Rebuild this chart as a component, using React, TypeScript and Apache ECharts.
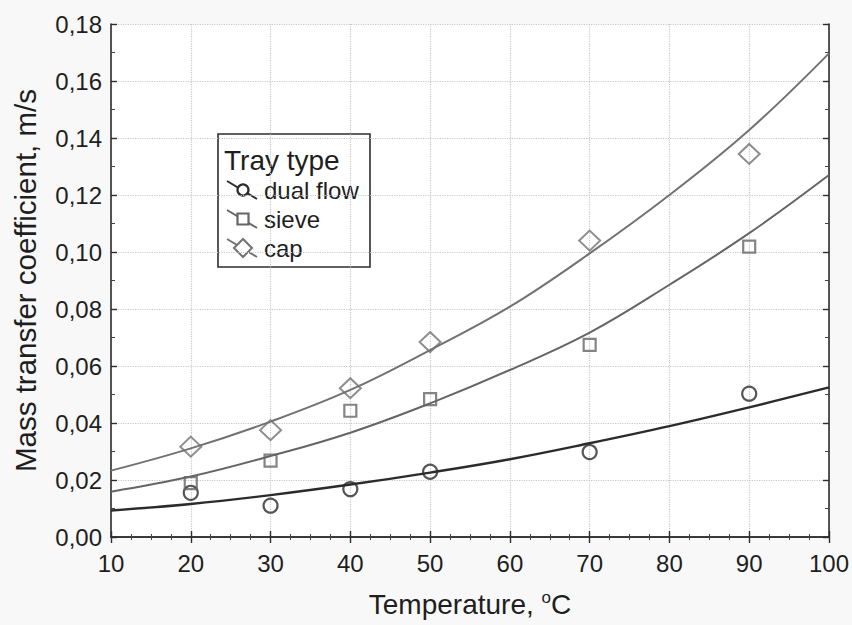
import React, { useEffect, useRef } from "react";
import * as echarts from "echarts";

// ---- data ----
const measuredT = [20, 30, 40, 50, 70, 90];
const dualFlow = [0.0155, 0.011, 0.0168, 0.0229, 0.0298, 0.0503];
const sieve = [0.0189, 0.0268, 0.0443, 0.0484, 0.0674, 0.1019];
const cap = [0.0317, 0.0375, 0.0522, 0.0684, 0.104, 0.1344];

const fitT = [10, 20, 30, 40, 50, 60, 70, 80, 90, 100];
const dualFlowFit = [0.0093, 0.0116, 0.0147, 0.0184, 0.0226, 0.0273, 0.0329, 0.0389, 0.0455, 0.0525];
const sieveFit = [0.0159, 0.0212, 0.0284, 0.0366, 0.0469, 0.0586, 0.0717, 0.0885, 0.1066, 0.127];
const capFit = [0.0233, 0.0311, 0.0405, 0.0516, 0.0656, 0.0808, 0.0995, 0.12, 0.1428, 0.1697];

const seriesNames = ["dual flow", "sieve", "cap"];
const legendTitle = "Tray type";
const xAxisName = "Temperature, ";
const yAxisName = "Mass transfer coefficient, m/s";

const FONT = "'Liberation Sans', Arial, sans-serif";
const TXT = "#1e1e1e";

const pair = (xs: number[], ys: number[]) => xs.map((x, i) => [x, ys[i]]);

export default function App() {
  const ref = useRef<HTMLDivElement>(null);
  useEffect(() => {
    if (!ref.current) return;
    const chart = echarts.init(ref.current, undefined, { renderer: "svg" });

    const colDual = "#2b2b2b";
    const colSieve = "#656565";
    const colCap = "#727272";

    const frameLine = { show: true, lineStyle: { color: "#2e2e2e", width: 1.6 } };
    const grid = { left: 111, top: 24, right: 23, bottom: 88, show: true, backgroundColor: "#ffffff", borderWidth: 0 };

    const lx = 218, ly = 134;
    const legendRows = [190, 219, 248];
    const iconX = 243;

    const option: any = {
      animation: false,
      backgroundColor: "#f8f8f8",
      grid,
      xAxis: [
        {
          type: "value",
          min: 10,
          max: 100,
          interval: 10,
          name: xAxisName + "{sup|o}C",
          nameLocation: "middle",
          nameGap: 52,
          nameTextStyle: {
            fontFamily: FONT,
            fontSize: 28,
            color: TXT,
            rich: { sup: { fontFamily: FONT, fontSize: 17, color: TXT, verticalAlign: "top", padding: [0, 0, 14, 0] } },
          },
          axisLine: frameLine,
          axisTick: { show: true, inside: true, length: 6, lineStyle: { color: "#2e2e2e", width: 1.4 } },
          minorTick: { show: true, splitNumber: 4, length: 3, lineStyle: { color: "#444", width: 1 } },
          axisLabel: { fontFamily: FONT, fontSize: 24, color: TXT, margin: 14 },
          splitLine: { show: true, lineStyle: { color: "#c8c8c8", type: "dotted", width: 1.2 } },
        },
        {
          type: "value",
          position: "top",
          min: 10,
          max: 100,
          interval: 10,
          axisLine: frameLine,
          axisTick: { show: true, inside: true, length: 6, lineStyle: { color: "#2e2e2e", width: 1.4 } },
          minorTick: { show: true, splitNumber: 4, length: 3, lineStyle: { color: "#444", width: 1 } },
          axisLabel: { show: false },
          splitLine: { show: false },
        },
      ],
      yAxis: [
        {
          type: "value",
          min: 0,
          max: 0.18,
          interval: 0.02,
          name: yAxisName,
          nameLocation: "middle",
          nameGap: 71,
          nameTextStyle: { fontFamily: FONT, fontSize: 29.5, color: TXT },
          axisLine: frameLine,
          axisTick: { show: true, inside: true, length: 6, lineStyle: { color: "#2e2e2e", width: 1.4 } },
          minorTick: { show: true, splitNumber: 2, length: 4, lineStyle: { color: "#444", width: 1 } },
          axisLabel: {
            fontFamily: FONT,
            fontSize: 24,
            color: TXT,
            margin: 9,
            formatter: (v: number) => v.toFixed(2).replace(".", ","),
          },
          splitLine: { show: true, lineStyle: { color: "#c8c8c8", type: "dotted", width: 1.2 } },
        },
        {
          type: "value",
          position: "right",
          min: 0,
          max: 0.18,
          interval: 0.02,
          axisLine: frameLine,
          axisTick: { show: true, inside: true, length: 6, lineStyle: { color: "#2e2e2e", width: 1.4 } },
          minorTick: { show: true, splitNumber: 2, length: 4, lineStyle: { color: "#444", width: 1 } },
          axisLabel: { show: false },
          splitLine: { show: false },
        },
      ],
      series: [
        {
          name: seriesNames[0] + " fit",
          type: "line",
          data: pair(fitT, dualFlowFit),
          smooth: 0.4,
          showSymbol: false,
          symbol: "none",
          lineStyle: { color: colDual, width: 2.4 },
          z: 2,
        },
        {
          name: seriesNames[1] + " fit",
          type: "line",
          data: pair(fitT, sieveFit),
          smooth: 0.4,
          showSymbol: false,
          symbol: "none",
          lineStyle: { color: colSieve, width: 2 },
          z: 2,
        },
        {
          name: seriesNames[2] + " fit",
          type: "line",
          data: pair(fitT, capFit),
          smooth: 0.4,
          showSymbol: false,
          symbol: "none",
          lineStyle: { color: colCap, width: 2 },
          z: 2,
        },
        {
          name: seriesNames[0],
          type: "scatter",
          data: pair(measuredT, dualFlow),
          symbol: "circle",
          symbolSize: 14,
          itemStyle: { color: "rgba(255,255,255,0)", borderColor: colDual, borderWidth: 2.2 },
          z: 3,
        },
        {
          name: seriesNames[1],
          type: "scatter",
          data: pair(measuredT, sieve),
          symbol: "rect",
          symbolSize: 12,
          itemStyle: { color: "rgba(255,255,255,0)", borderColor: colSieve, borderWidth: 2.2 },
          z: 3,
        },
        {
          name: seriesNames[2],
          type: "scatter",
          data: pair(measuredT, cap),
          symbol: "diamond",
          symbolSize: [21, 20],
          itemStyle: { color: "rgba(255,255,255,0)", borderColor: colCap, borderWidth: 2 },
          z: 3,
        },
      ],
      graphic: [
        {
          type: "group",
          z: 100,
          children: [
            {
              type: "rect",
              shape: { x: lx, y: ly, width: 152, height: 133 },
              style: { fill: "#ffffff", stroke: "#2e2e2e", lineWidth: 1.6 },
            },
            {
              type: "text",
              x: lx + 6,
              y: ly + 26,
              style: { text: legendTitle, font: `28px ${FONT}`, fill: TXT, textVerticalAlign: "middle", verticalAlign: "middle" },
            },
            ...legendRows.map((cy, i) => ({
              type: "line",
              shape: { x1: iconX - 16, y1: cy - 9, x2: iconX + 14, y2: cy + 9 },
              style: { stroke: [colDual, colSieve, colCap][i], lineWidth: 2 },
            })),
            {
              type: "circle",
              shape: { cx: iconX, cy: legendRows[0], r: 5.5 },
              style: { fill: "#fff", stroke: colDual, lineWidth: 2.2 },
            },
            {
              type: "rect",
              shape: { x: iconX - 5.5, y: legendRows[1] - 5.5, width: 11, height: 11 },
              style: { fill: "#fff", stroke: colSieve, lineWidth: 2.2 },
            },
            {
              type: "polygon",
              shape: {
                points: [
                  [iconX, legendRows[2] - 9],
                  [iconX + 9, legendRows[2]],
                  [iconX, legendRows[2] + 9],
                  [iconX - 9, legendRows[2]],
                ],
              },
              style: { fill: "#fff", stroke: colCap, lineWidth: 2 },
            },
            ...seriesNames.map((n, i) => ({
              type: "text",
              x: lx + 46,
              y: legendRows[i],
              style: { text: n, font: `24px ${FONT}`, fill: TXT, textVerticalAlign: "middle", verticalAlign: "middle" },
            })),
          ],
        },
      ],
    };

    chart.setOption(option);
    return () => chart.dispose();
  }, []);

  return (
    <div
      ref={ref}
      style={{ position: "fixed", left: 0, top: 0, width: 852, height: 625, background: "#f8f8f8" }}
    />
  );
}
